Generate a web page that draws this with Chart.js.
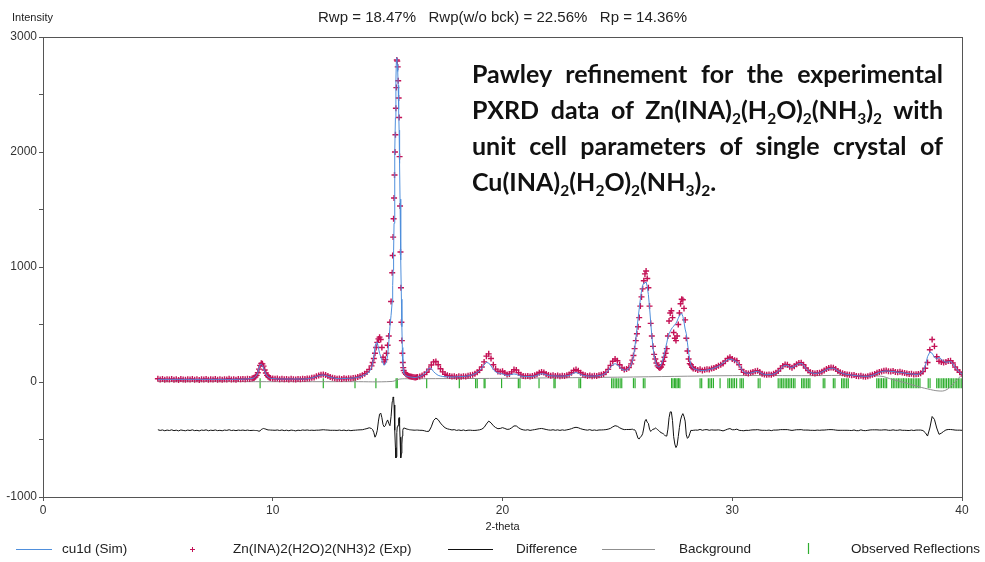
<!DOCTYPE html>
<html>
<head>
<meta charset="utf-8">
<title>Pawley refinement</title>
<script src="https://cdn.jsdelivr.net/npm/chart.js@4.4.1/dist/chart.umd.min.js"></script>
<style>
  body { margin: 0; background: #fff; }
  #wrap { position: relative; width: 985px; height: 562px; }
  #note { position: absolute; left: 472px; top: 55px; width: 471px;
          font-family: Lato, "Open Sans", sans-serif; font-weight: bold;
          font-size: 25px; line-height: 36px; color: #111; }
  #note .j { text-align: justify; text-align-last: justify; }
  #note sub { font-size: 0.62em; vertical-align: baseline; position: relative; top: 0.32em; line-height: 0; }
</style>
</head>
<body>
<div id="wrap">
  <canvas id="chart" width="985" height="562"></canvas>
  <div id="note">
    <div class="j">Pawley refinement for the experimental</div>
    <div class="j">PXRD data of Zn(INA)<sub>2</sub>(H<sub>2</sub>O)<sub>2</sub>(NH<sub>3</sub>)<sub>2</sub> with</div>
    <div class="j">unit cell parameters of single crystal of</div>
    <div>Cu(INA)<sub>2</sub>(H<sub>2</sub>O)<sub>2</sub>(NH<sub>3</sub>)<sub>2</sub>.</div>
  </div>
</div>
<script>
"use strict";

///////////////// DATA //////////////////////////////
// 2-theta grid (finer around the sharp peaks)
const twoTheta = [
  5.0,5.1,5.2,5.3,5.4,5.5,5.6,5.7,5.8,5.9,
  6.0,6.1,6.2,6.3,6.4,6.5,6.6,6.7,6.8,6.9,
  7.0,7.1,7.2,7.3,7.4,7.5,7.6,7.7,7.8,7.9,
  8.0,8.1,8.2,8.3,8.4,8.5,8.6,8.7,8.8,8.9,
  9.0,
  9.1,9.15,9.2,9.25,9.3,9.35,9.4,9.45,9.5,9.55,
  9.6,9.65,9.7,9.75,9.8,9.85,9.9,10.0,10.1,10.2,
  10.3,10.4,10.5,10.6,10.7,10.8,10.9,11.0,11.1,11.2,
  11.3,11.4,11.5,11.6,11.7,11.8,11.9,12.0,12.1,12.2,
  12.3,12.4,12.5,12.6,12.7,12.8,12.9,13.0,13.1,13.2,
  13.3,13.4,13.5,
  13.6,13.7,13.8,13.9,14.0,14.1,14.2,14.3,
  14.35,14.4,14.45,14.5,14.55,14.6,14.65,14.7,14.75,14.8,
  14.85,14.9,14.95,15.0,15.05,15.1,15.15,15.2,
  15.22,15.24,15.26,15.28,15.30,15.32,15.34,15.36,15.38,15.40,
  15.42,15.44,15.46,15.48,15.50,15.52,15.54,15.56,15.58,15.60,
  15.62,15.64,15.66,15.68,15.70,
  15.75,15.8,15.85,15.9,15.95,16.0,16.05,16.1,16.15,16.2,16.25,16.3,
  16.4,16.5,16.6,16.7,16.8,16.9,17.0,17.1,17.2,17.3,
  17.4,17.5,17.6,17.7,17.8,17.9,18.0,18.1,18.2,18.3,
  18.4,18.5,18.6,18.7,18.8,18.9,19.0,19.1,19.2,19.3,
  19.4,19.5,19.6,19.7,19.8,19.9,20.0,20.1,20.2,20.3,
  20.4,20.5,20.6,20.7,20.8,20.9,21.0,21.1,21.2,21.3,
  21.4,21.5,21.6,21.7,21.8,21.9,22.0,22.1,22.2,22.3,
  22.4,22.5,22.6,22.7,22.8,22.9,23.0,23.1,23.2,23.3,
  23.4,23.5,23.6,23.7,23.8,23.9,24.0,24.1,24.2,24.3,
  24.4,24.5,
  24.6,24.7,24.8,24.9,25.0,25.1,25.2,25.3,25.4,25.5,25.6,
  25.65,25.7,25.75,25.8,25.85,25.9,25.95,26.0,26.05,26.1,
  26.15,26.2,26.25,26.3,26.35,26.4,26.45,26.5,26.55,26.6,
  26.65,26.7,26.75,26.8,26.85,26.9,26.95,27.0,27.05,27.1,
  27.15,27.2,27.25,27.3,27.35,27.4,27.45,27.5,27.55,27.6,
  27.65,27.7,27.75,27.8,27.85,27.9,27.95,28.0,28.05,28.1,
  28.15,28.2,28.25,28.3,
  28.4,28.5,28.6,28.7,28.8,28.9,29.0,29.1,29.2,29.3,
  29.4,29.5,29.6,29.7,29.8,29.9,30.0,30.1,30.2,30.3,
  30.4,30.5,30.6,30.7,30.8,30.9,31.0,31.1,31.2,31.3,
  31.4,31.5,31.6,31.7,31.8,31.9,32.0,32.1,32.2,32.3,
  32.4,32.5,32.6,32.7,32.8,32.9,33.0,33.1,33.2,33.3,
  33.4,33.5,33.6,33.7,33.8,33.9,34.0,34.1,34.2,34.3,
  34.4,34.5,34.6,34.7,34.8,34.9,35.0,35.1,35.2,35.3,
  35.4,35.5,35.6,35.7,35.8,35.9,36.0,36.1,36.2,36.3,
  36.4,36.5,36.6,36.7,36.8,36.9,37.0,37.1,37.2,37.3,
  37.4,37.5,37.6,37.7,37.8,37.9,38.0,38.1,38.2,38.3,
  38.4,38.5,38.6,38.7,38.8,38.9,39.0,39.1,39.2,39.3,
  39.4,39.5,39.6,39.7,39.8,39.9,40.0
];

// experimental intensities (red crosses)
const yObs = [
  28,22,26,19,25,21,27,20,24,18,
  26,22,19,25,21,27,20,23,18,25,
  22,27,19,24,21,26,20,23,19,25,
  22,28,21,24,20,26,23,27,24,29,
  27,
  30,34,38,45,58,80,112,145,162,158,
  138,105,78,58,46,40,35,31,28,30,
  24,29,23,27,22,28,25,21,27,24,
  29,26,31,30,36,40,49,56,63,66,
  60,52,43,37,33,29,31,27,32,28,
  33,30,35,
  38,44,50,58,72,88,110,140,
  170,205,250,300,345,375,390,370,300,215,
  175,195,250,320,400,520,700,950,
  1100,1260,1420,1600,1800,2000,2150,2380,2560,2800,
  2790,2740,2620,2470,2300,1960,1530,1130,820,520,
  360,250,170,125,100,
  80,68,60,55,50,47,45,43,41,40,42,44,
  48,56,66,85,112,148,175,178,150,115,
  88,68,58,52,47,50,44,49,45,51,
  47,54,58,62,71,84,102,130,175,225,
  245,205,150,112,92,90,93,78,66,70,
  88,108,104,80,62,53,49,53,47,52,
  58,68,80,88,82,70,60,55,58,52,
  56,50,55,52,58,66,80,100,108,98,
  80,66,58,53,57,50,55,52,58,62,
  70,84,
  110,145,180,200,185,150,122,108,112,125,158,
  190,230,290,360,420,480,560,660,740,810,
  880,940,965,900,820,660,510,400,310,240,
  200,165,140,128,122,130,150,180,215,250,
  290,400,530,600,620,560,430,380,360,400,
  500,600,680,720,715,640,540,380,270,200,
  160,150,128,118,
  112,105,110,100,106,110,108,118,122,130,
  142,150,160,182,205,215,200,190,185,150,
  110,84,78,75,80,88,94,98,86,72,
  66,62,66,63,72,80,95,118,140,152,
  150,132,125,138,155,165,168,150,122,100,
  84,78,74,78,80,90,100,112,122,126,
  125,112,96,84,76,70,66,62,58,60,
  52,50,55,48,46,50,56,62,70,80,
  86,92,98,100,94,92,96,88,84,90,
  82,78,74,70,72,66,68,70,76,90,
  120,170,280,370,310,220,180,175,170,175,
  182,185,165,130,105,85,68
];

// calculated profile (blue line)
const yCalc = [
  23,23,23,23,23,23,23,23,23,23,
  23,23,23,23,23,23,23,23,23,23,
  23,23,23,23,23,23,23,23,23,23,
  23,23,23,23,23,24,24,25,26,27,
  29,
  31,34,39,47,60,84,120,150,155,146,
  122,92,68,52,43,37,33,30,28,27,
  26,26,26,26,26,26,26,26,26,26,
  26,26,28,31,35,41,48,55,60,61,
  57,50,43,37,33,30,29,29,30,31,
  32,33,35,
  37,41,46,53,62,73,88,125,
  165,225,310,340,345,295,250,220,190,165,
  145,155,180,230,340,480,580,700,
  840,970,1140,1380,1680,2000,2300,2620,2790,2820,
  2760,2700,2580,2370,2190,1900,1590,1310,1060,720,
  480,300,170,110,80,
  62,55,50,47,45,43,42,41,40,39,40,42,
  48,56,70,95,120,118,90,72,58,52,
  48,46,45,44,44,44,45,46,47,48,
  50,53,57,63,72,83,98,120,150,170,
  165,140,110,88,78,74,70,62,58,60,
  66,70,66,58,52,49,48,48,48,49,
  52,58,66,72,70,63,57,54,53,52,
  52,51,51,52,54,58,66,78,82,76,
  66,58,54,52,51,51,52,53,55,59,
  66,78,
  100,128,150,160,150,128,110,102,105,118,150,
  180,225,285,370,460,550,635,720,790,840,
  860,860,870,830,760,650,520,400,300,230,
  180,150,135,130,135,150,175,210,255,300,
  340,390,420,440,460,475,485,500,510,530,
  555,575,590,595,570,520,460,420,340,260,
  190,150,130,118,
  110,104,102,100,101,104,108,114,120,128,
  138,150,165,180,195,200,195,185,175,150,
  112,88,78,76,78,84,90,92,84,72,
  66,63,64,66,70,78,92,112,134,146,
  144,130,126,136,150,160,162,148,120,98,
  84,78,75,76,80,88,98,108,116,120,
  120,110,96,84,76,70,66,63,60,57,
  55,53,51,50,49,50,53,58,66,76,
  84,90,94,96,94,92,92,88,84,86,
  82,78,75,72,70,68,66,68,74,92,
  140,220,260,250,215,200,215,200,180,172,
  175,178,160,128,104,84,68
];

// background curve (grey)
const bgTheta = [5, 13.5, 15.2, 15.5, 16, 20, 25, 30, 33, 36.4, 37, 37.5, 38, 38.5, 39, 39.3, 39.6, 40];
const yBack   = [3, 3, 5, 25, 28, 32, 42, 55, 55, 52, 20, -5, -35, -60, -78, -70, -20, 65];

// observed reflection positions (green ticks)
const reflections = [
  9.45, 12.2, 13.58, 14.49, 15.37, 15.42, 16.7, 18.12, 18.83, 18.9, 19.2, 19.24, 19.96,
  20.69, 20.76, 21.59, 22.24, 22.29, 23.33, 23.4,
  24.75, 24.82, 24.9, 24.97, 25.04, 25.12, 25.19, 25.7, 25.77, 26.13, 26.2,
  27.36, 27.42, 27.49, 27.54, 27.6, 27.66, 27.72, 28.6, 28.67, 28.96, 29.03, 29.1, 29.18, 29.47,
  29.81, 29.88, 29.96, 30.03, 30.1, 30.19, 30.34, 30.41, 30.48, 31.13, 31.21,
  32.0, 32.08, 32.15, 32.22, 32.3, 32.37, 32.44, 32.51, 32.58, 32.66, 32.73,
  33.02, 33.09, 33.16, 33.24, 33.31, 33.38, 33.96, 34.03, 34.4, 34.47,
  34.76, 34.83, 34.9, 34.98, 35.05,
  36.29, 36.36, 36.43, 36.5, 36.58, 36.65, 36.72,
  36.94, 37.01, 37.08, 37.16, 37.23, 37.3, 37.38, 37.45, 37.52, 37.59, 37.67, 37.74, 37.81,
  37.88, 37.96, 38.03, 38.1, 38.17, 38.53, 38.61,
  38.9, 38.97, 39.04, 39.12, 39.19, 39.26, 39.33, 39.41, 39.48, 39.55, 39.62, 39.7,
  39.77, 39.84, 39.91, 39.99
];

// difference curve is drawn shifted down by this amount
const diffOffset = -420;
const reflLevel = -10;

const seriesNames = ['cu1d (Sim)', 'Zn(INA)2(H2O)2(NH3)2 (Exp)', 'Difference', 'Background', 'Observed Reflections'];
const rTitle = 'Rwp = 18.47%   Rwp(w/o bck) = 22.56%   Rp = 14.36%';

const colSim = '#4f8fdc';
const colExp = '#c41256';
const colDiff = '#111111';
const colBack = '#8f8f8f';
const colRefl = '#2fae2f';

///////////////// BUILD POINTS FOR CHART.JS //////////////////////////////
const simPts = twoTheta.map((t, i) => ({ x: t, y: yCalc[i] }));
const expPts = twoTheta.map((t, i) => ({ x: t, y: yObs[i] }));
const diffPts = twoTheta.map((t, i) => ({ x: t, y: yObs[i] - yCalc[i] + diffOffset }));
const backPts = bgTheta.map((t, i) => ({ x: t, y: yBack[i] }));
const reflPts = reflections.map(t => ({ x: t, y: reflLevel }));

const font = 'Liberation Sans, Arial, sans-serif';

// frame, top text, axis title and the bottom legend
const decor = {
  id: 'decor',
  afterDraw(chart) {
    const { ctx, chartArea: a } = chart;
    ctx.save();
    ctx.strokeStyle = '#555';
    ctx.lineWidth = 1;
    ctx.strokeRect(a.left + 0.5, a.top + 0.5, a.right - a.left, a.bottom - a.top);

    ctx.fillStyle = '#222';
    ctx.textBaseline = 'middle';
    ctx.font = '15px ' + font;
    ctx.textAlign = 'center';
    ctx.fillText(rTitle, (a.left + a.right) / 2, 18);

    ctx.font = '11px ' + font;
    ctx.textAlign = 'left';
    ctx.fillText('Intensity', 12, 18);
    ctx.textAlign = 'center';
    ctx.fillText('2-theta', (a.left + a.right) / 2, 527);

    // legend
    const ly = 549;
    ctx.font = '13.5px ' + font;
    ctx.textAlign = 'left';
    ctx.lineWidth = 1;
    ctx.strokeStyle = colSim;
    ctx.beginPath(); ctx.moveTo(16, ly + 0.5); ctx.lineTo(52, ly + 0.5); ctx.stroke();
    ctx.fillText(seriesNames[0], 62, ly);

    ctx.strokeStyle = colExp;
    ctx.beginPath(); ctx.moveTo(190, ly + 0.5); ctx.lineTo(195, ly + 0.5);
    ctx.moveTo(192.5, ly - 2); ctx.lineTo(192.5, ly + 3); ctx.stroke();
    ctx.fillText(seriesNames[1], 233, ly);

    ctx.strokeStyle = colDiff;
    ctx.beginPath(); ctx.moveTo(448, ly + 0.5); ctx.lineTo(493, ly + 0.5); ctx.stroke();
    ctx.fillText(seriesNames[2], 516, ly);

    ctx.strokeStyle = colBack;
    ctx.beginPath(); ctx.moveTo(602, ly + 0.5); ctx.lineTo(655, ly + 0.5); ctx.stroke();
    ctx.fillText(seriesNames[3], 679, ly);

    ctx.strokeStyle = colRefl;
    ctx.lineWidth = 1.2;
    ctx.beginPath(); ctx.moveTo(808.5, ly - 6); ctx.lineTo(808.5, ly + 5); ctx.stroke();
    ctx.fillText(seriesNames[4], 851, ly);
    ctx.restore();
  }
};

new Chart(document.querySelector('#chart'), {
  type: 'scatter',
  data: {
    datasets: [
      { label: seriesNames[0], data: simPts, showLine: true, borderColor: colSim, borderWidth: 1,
        pointRadius: 0, order: 1 },
      { label: seriesNames[1], data: expPts, showLine: false, pointStyle: 'cross', pointRadius: 3,
        borderColor: colExp, backgroundColor: colExp, borderWidth: 1.4, order: 2 },
      { label: seriesNames[2], data: diffPts, showLine: true, borderColor: colDiff, borderWidth: 1,
        pointRadius: 0, order: 4 },
      { label: seriesNames[3], data: backPts, showLine: true, borderColor: colBack, borderWidth: 1,
        pointRadius: 0, tension: 0.4, order: 3 },
      { label: seriesNames[4], data: reflPts, showLine: false, pointStyle: 'line', rotation: 90,
        pointRadius: 5, borderColor: colRefl, borderWidth: 1.2, order: 5 }
    ]
  },
  options: {
    responsive: false,
    animation: false,
    events: [],
    layout: { padding: { top: 37, right: 23, left: 0, bottom: 0 } },
    plugins: { legend: { display: false }, tooltip: { enabled: false }, title: { display: false } },
    scales: {
      x: {
        type: 'linear', min: 0, max: 40,
        ticks: { stepSize: 10, color: '#333', font: { family: font, size: 12 }, padding: 2, maxRotation: 0 },
        grid: { drawOnChartArea: false, tickLength: 4, color: '#555' },
        border: { color: '#555' },
        afterFit(s) { s.height = 65; }
      },
      y: {
        type: 'linear', min: -1000, max: 3000,
        ticks: { stepSize: 500, color: '#333', font: { family: font, size: 12 }, padding: 2,
                 callback: v => (v % 1000 === 0 ? String(v) : '') },
        grid: { drawOnChartArea: false, tickLength: 4, color: '#555' },
        border: { color: '#555' },
        afterFit(s) { s.width = 43; }
      }
    }
  },
  plugins: [decor]
});
</script>
</body>
</html>
